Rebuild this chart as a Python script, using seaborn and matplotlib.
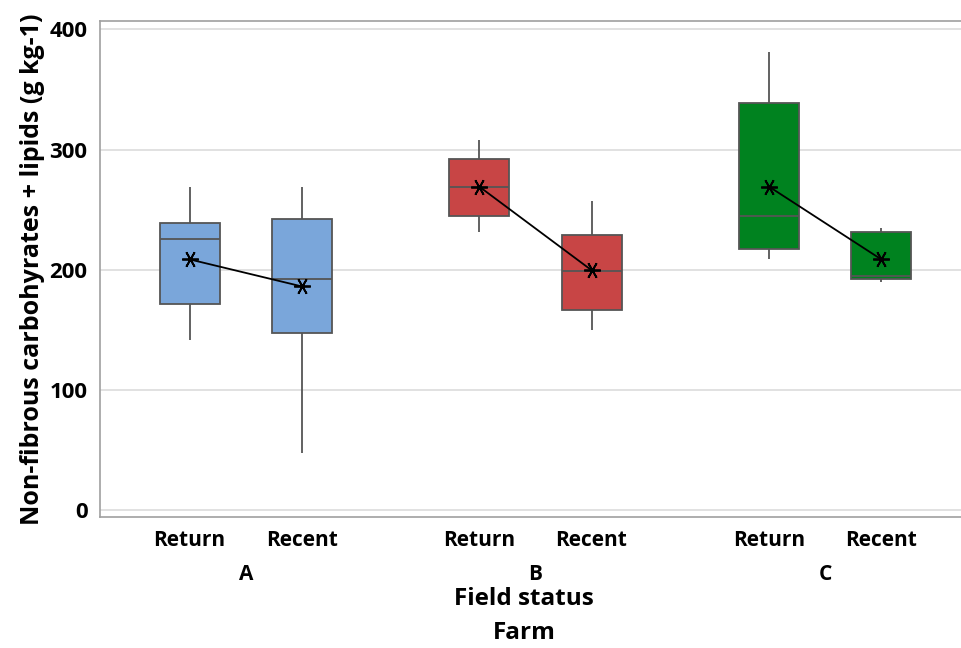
import numpy as np
import pandas as pd
import matplotlib
matplotlib.use("Agg")
import matplotlib.pyplot as plt
import matplotlib.transforms as mtransforms
import seaborn as sns

# ---- data ----
farms = ["A", "B", "C"]
statuses = ["Return", "Recent"]
whisker_low = [141, 47.5, 231.5, 150, 209, 190]
q1 = [171, 147, 245, 166, 217.5, 192.5]
median = [225.5, 192.5, 269, 198.5, 245, 194.5]
q3 = [239, 242, 292, 228.5, 338.5, 231.5]
whisker_high = [269, 269, 307.5, 257, 381.5, 235]
means = [208.5, 186, 269, 199.5, 269, 208.5]
colors = ["#7AA6DA", "#C84545", "#00821F"]
y_ticks = [0, 100, 200, 300, 400]

# ---- layout ----
group_step = 2.585
rows = []
mrows = []
k = 0
for fi, farm in enumerate(farms):
    for si, st in enumerate(statuses):
        pos = fi * group_step + si
        for v in (whisker_low[k], q1[k], median[k], q3[k], whisker_high[k]):
            rows.append({"farm": farm, "status": st, "pos": pos, "value": v})
        mrows.append({"farm": farm, "status": st, "pos": pos, "mean": means[k]})
        k += 1
df = pd.DataFrame(rows)
mdf = pd.DataFrame(mrows)

sns.set_style("white")
plt.rcParams["font.family"] = ["Open Sans", "DejaVu Sans"]
plt.rcParams["text.color"] = "black"
plt.rcParams["axes.labelcolor"] = "black"
plt.rcParams["xtick.labelcolor"] = "black"
plt.rcParams["ytick.labelcolor"] = "black"

fig = plt.figure(figsize=(9.62, 6.48), dpi=100)
ax = fig.add_axes([100 / 962, 1 - 517 / 648, 1 - 100 / 962, (517 - 21) / 648])

for y in y_ticks:
    ax.axhline(y, color="#DCDCDC", lw=1.2, zorder=0)

sns.boxplot(data=df, x="pos", y="value", hue="farm", palette=colors,
            native_scale=True, dodge=False, width=0.535, whis=np.inf,
            showcaps=False, saturation=1, linecolor="#555555", linewidth=1.3,
            legend=False, ax=ax)

sns.lineplot(data=mdf, x="pos", y="mean", units="farm", estimator=None,
             color="black", lw=1.3, marker=(6, 2, 90), markersize=12,
             markeredgecolor="black", markeredgewidth=1.3, legend=False,
             ax=ax, zorder=5)

ax.set_xlim(-0.80, 6.89)
ax.set_ylim(-6, 407)
ax.set_yticks(y_ticks)
ax.set_xticks(mdf["pos"].tolist())
ax.set_xticklabels([s for _ in farms for s in statuses])
ax.tick_params(axis="both", which="both", length=5, width=1, color="#999999",
               pad=4, labelcolor="black")
ax.tick_params(axis="x", labelsize=15)
ax.tick_params(axis="y", labelsize=16)
for lab in ax.get_xticklabels() + ax.get_yticklabels():
    lab.set_fontweight("bold")
ax.set_xlabel("")
ax.set_ylabel("Non-fibrous carbohyrates + lipids (g kg-1)", fontsize=18,
              fontweight="bold", labelpad=3, color="black")

for side in ["left", "bottom", "top"]:
    ax.spines[side].set_color("#A0A0A0")
    ax.spines[side].set_linewidth(1.2)
ax.spines["right"].set_visible(False)

trans = mtransforms.blended_transform_factory(ax.transData, ax.transAxes)
for fi, farm in enumerate(farms):
    cx = fi * group_step + 0.5
    ax.text(cx, -0.115, farm, transform=trans, ha="center", va="center",
            fontsize=15, fontweight="bold", color="black")

fig.text(524 / 962, 1 - 599 / 648, "Field status", ha="center", va="center",
         fontsize=17.5, fontweight="bold", color="black")
fig.text(524 / 962, 1 - 633 / 648, "Farm", ha="center", va="center",
         fontsize=17.5, fontweight="bold", color="black")

fig.savefig("out.png", dpi=100)
